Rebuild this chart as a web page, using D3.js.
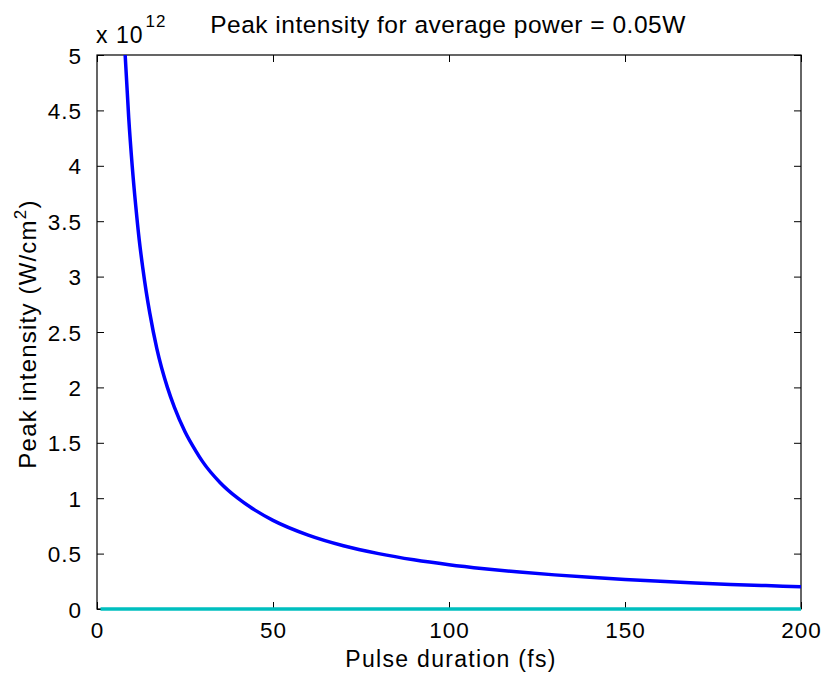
<!DOCTYPE html>
<html><head><meta charset="utf-8">
<script src="https://cdn.jsdelivr.net/npm/d3@7"></script>
<style>body{margin:0;background:#fff}svg{display:block}text{font-family:"Liberation Sans",Arial,sans-serif;fill:#000}</style>
</head><body>
<svg id="c" width="828" height="682"></svg>
<script>
const pulseDuration = [8,9,10,11,12,13,14,15,17,20,22,25,28,30,35,40,45,50,60,70,80,90,100,110,120,130,140,150,160,170,180,190,200];
const peakIntensity = [5.0,4.44,4.0,3.64,3.33,3.08,2.86,2.67,2.35,2.0,1.82,1.6,1.43,1.33,1.14,1.0,0.89,0.8,0.667,0.571,0.5,0.444,0.4,0.364,0.333,0.308,0.286,0.267,0.25,0.235,0.222,0.211,0.2];
const thresholdT = [1,200];
const thresholdI = [0,0];
const xTicks = [0,50,100,150,200];
const yTicks = [0,0.5,1,1.5,2,2.5,3,3.5,4,4.5,5];

const svg = d3.select("#c");
const L=97,R=801,T=55,B=609;
const x = d3.scaleLinear().domain([0,200]).range([L,R]);
const y = d3.scaleLinear().domain([0,5]).range([B,T]);

svg.append("clipPath").attr("id","cl").append("rect").attr("x",L).attr("y",T-1).attr("width",R-L).attr("height",B-T+4);

const tl=7;
const ax = svg.append("g").attr("transform",`translate(0,${B})`).call(d3.axisBottom(x).tickValues(xTicks).tickSizeInner(-tl).tickSizeOuter(0).tickPadding(13));
const axT = svg.append("g").attr("transform",`translate(0,${T})`).call(d3.axisTop(x).tickValues(xTicks).tickSizeInner(-tl).tickSizeOuter(0).tickFormat(""));
const ay = svg.append("g").attr("transform",`translate(${L},0)`).call(d3.axisLeft(y).tickValues(yTicks).tickSizeInner(-tl).tickSizeOuter(0).tickPadding(15).tickFormat(d3.format("~g")));
const ayR = svg.append("g").attr("transform",`translate(${R},0)`).call(d3.axisRight(y).tickValues(yTicks).tickSizeInner(-tl).tickSizeOuter(0).tickFormat(""));
[ax,axT,ay,ayR].forEach(g=>{g.select(".domain").remove();g.selectAll("line").attr("stroke","#000").attr("stroke-width",1);g.selectAll("text").attr("font-size",22.5).attr("letter-spacing",1).attr("font-family","Liberation Sans, Arial, sans-serif").attr("fill","#000");});
ax.selectAll("text").attr("dy","0.71em");
ay.selectAll("text").attr("dy","0.36em");
svg.append("rect").attr("x",L).attr("y",T).attr("width",R-L).attr("height",B-T).attr("fill","none").attr("stroke","#000").attr("stroke-width",1.2);

const line = d3.line().x((d)=>x(d[0])).y((d)=>y(d[1])).curve(d3.curveMonotoneX);
svg.append("path").datum(pulseDuration.map((t,i)=>[t,peakIntensity[i]]))
  .attr("d",line).attr("fill","none").attr("stroke","#0000ff").attr("stroke-width",3.5).attr("clip-path","url(#cl)");
svg.append("path").datum(thresholdT.map((t,i)=>[t,thresholdI[i]]))
  .attr("d",line).attr("fill","none").attr("stroke","#00bfbf").attr("stroke-width",3.5);

svg.append("text").attr("x",448).attr("y",33).attr("text-anchor","middle").attr("font-size",24.5).attr("letter-spacing",0.5).text("Peak intensity for average power = 0.05W");
svg.append("text").attr("x",451).attr("y",667).attr("text-anchor","middle").attr("font-size",23).attr("letter-spacing",1.3).text("Pulse duration (fs)");
const yl = svg.append("text").attr("transform","translate(36,334) rotate(-90)").attr("text-anchor","middle").attr("font-size",24).attr("letter-spacing",1.2);
yl.append("tspan").text("Peak intensity (W/cm");
yl.append("tspan").attr("font-size",17).attr("dy",-10).text("2");
yl.append("tspan").attr("dy",10).text(")");
const ex = svg.append("text").attr("x",96).attr("y",43).attr("font-size",23).attr("letter-spacing",1);
ex.append("tspan").text("x 10");
ex.append("tspan").attr("font-size",17).attr("dy",-16).attr("dx",2).text("12");
</script>
</body></html>
